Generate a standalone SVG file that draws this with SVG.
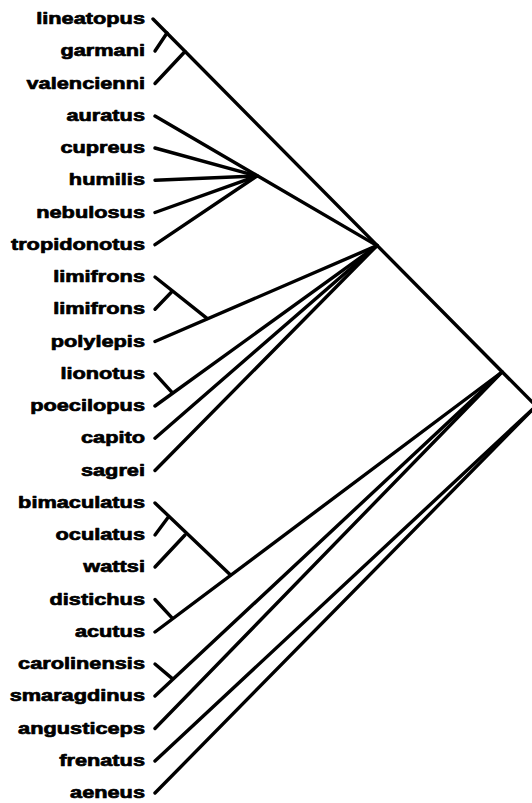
<svg xmlns="http://www.w3.org/2000/svg" width="532" height="803" viewBox="0 0 532 803">
<style>
.lbl{font-family:"Liberation Sans",Arial,Helvetica,sans-serif;font-weight:bold;font-size:17px;text-anchor:end;fill:#000;stroke:#000;stroke-width:0.7px;stroke-linejoin:round}
.br{fill:none;stroke:#000;stroke-width:3.4;stroke-linecap:round;stroke-linejoin:round}
</style>
<rect width="532" height="803" fill="#fff"/>
<g id="connectors" class="br">
<polyline points="153,19 536,406"/>
<polyline points="155,51 167,33"/>
<polyline points="155,83.5 185,51.5"/>
<polyline points="155,116 377,245.6"/>
<polyline points="155,148 257,176"/>
<polyline points="155,180.2 257,176"/>
<polyline points="155,212.5 257,176"/>
<polyline points="155,244.7 257,176"/>
<polyline points="155,277 207,318.4"/>
<polyline points="155,309.2 172,291.5"/>
<polyline points="155,341.5 377,245.6"/>
<polyline points="155,373.7 172,392.4"/>
<polyline points="155,406 377,245.6"/>
<polyline points="155,438.2 377,245.6"/>
<polyline points="155,470.5 377,245.6"/>
<polyline points="155,503 230,574.6"/>
<polyline points="155,535 168,517.5"/>
<polyline points="155,567 185,535"/>
<polyline points="155,599.5 172,617.8"/>
<polyline points="155,632 502,372"/>
<polyline points="155,664 172,678.4"/>
<polyline points="155,696 502,372"/>
<polyline points="155,728.5 502,372"/>
<polyline points="155,761 536,406"/>
<polyline points="155,793 536,406"/>
</g>
<g id="leaf-lineatopus"><text class="lbl" transform="translate(145,24) scale(1.28,1)">lineatopus</text></g>
<g id="leaf-garmani"><text class="lbl" transform="translate(145,56.25) scale(1.28,1)">garmani</text></g>
<g id="leaf-valencienni"><text class="lbl" transform="translate(145,88.5) scale(1.28,1)">valencienni</text></g>
<g id="leaf-auratus"><text class="lbl" transform="translate(145,120.75) scale(1.28,1)">auratus</text></g>
<g id="leaf-cupreus"><text class="lbl" transform="translate(145,153) scale(1.28,1)">cupreus</text></g>
<g id="leaf-humilis"><text class="lbl" transform="translate(145,185.25) scale(1.28,1)">humilis</text></g>
<g id="leaf-nebulosus"><text class="lbl" transform="translate(145,217.5) scale(1.28,1)">nebulosus</text></g>
<g id="leaf-tropidonotus"><text class="lbl" transform="translate(145,249.75) scale(1.28,1)">tropidonotus</text></g>
<g id="leaf-limifrons-1"><text class="lbl" transform="translate(145,282) scale(1.28,1)">limifrons</text></g>
<g id="leaf-limifrons-2"><text class="lbl" transform="translate(145,314.25) scale(1.28,1)">limifrons</text></g>
<g id="leaf-polylepis"><text class="lbl" transform="translate(145,346.5) scale(1.28,1)">polylepis</text></g>
<g id="leaf-lionotus"><text class="lbl" transform="translate(145,378.75) scale(1.28,1)">lionotus</text></g>
<g id="leaf-poecilopus"><text class="lbl" transform="translate(145,411) scale(1.28,1)">poecilopus</text></g>
<g id="leaf-capito"><text class="lbl" transform="translate(145,443.25) scale(1.28,1)">capito</text></g>
<g id="leaf-sagrei"><text class="lbl" transform="translate(145,475.5) scale(1.28,1)">sagrei</text></g>
<g id="leaf-bimaculatus"><text class="lbl" transform="translate(145,507.75) scale(1.28,1)">bimaculatus</text></g>
<g id="leaf-oculatus"><text class="lbl" transform="translate(145,540) scale(1.28,1)">oculatus</text></g>
<g id="leaf-wattsi"><text class="lbl" transform="translate(145,572.25) scale(1.28,1)">wattsi</text></g>
<g id="leaf-distichus"><text class="lbl" transform="translate(145,604.5) scale(1.28,1)">distichus</text></g>
<g id="leaf-acutus"><text class="lbl" transform="translate(145,636.75) scale(1.28,1)">acutus</text></g>
<g id="leaf-carolinensis"><text class="lbl" transform="translate(145,669) scale(1.28,1)">carolinensis</text></g>
<g id="leaf-smaragdinus"><text class="lbl" transform="translate(145,701.25) scale(1.28,1)">smaragdinus</text></g>
<g id="leaf-angusticeps"><text class="lbl" transform="translate(145,733.5) scale(1.28,1)">angusticeps</text></g>
<g id="leaf-frenatus"><text class="lbl" transform="translate(145,765.75) scale(1.28,1)">frenatus</text></g>
<g id="leaf-aeneus"><text class="lbl" transform="translate(145,798) scale(1.28,1)">aeneus</text></g>
</svg>
